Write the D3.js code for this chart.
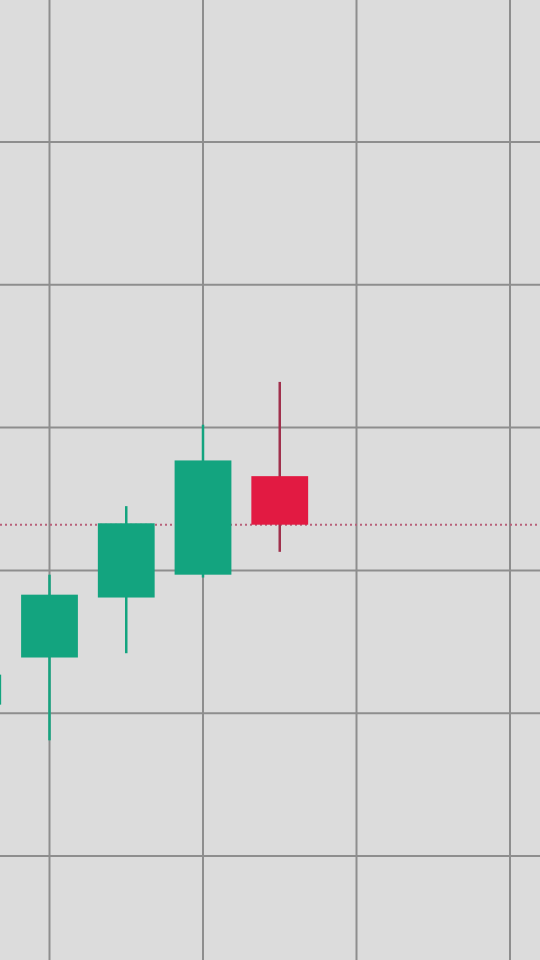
<!DOCTYPE html>
<html>
<head>
<meta charset="utf-8">
<script src="https://cdn.jsdelivr.net/npm/d3@7"></script>
<style>
html, body { margin: 0; padding: 0; background: #dcdcdc; overflow: hidden; }
svg { display: block; }
</style>
</head>
<body>
<svg id="chart" width="540" height="960"></svg>
<script>
// candle data
var idx   = [0, 1, 2, 3, 4];
var open  = [110.6, 113.9, 118.1, 119.7, 126.6];
var close = [112.7, 118.3, 123.3, 127.7, 123.2];
var high  = [113.5, 119.7, 124.5, 130.2, 133.2];
var low   = [109.6, 108.1, 114.2, 119.5, 121.3];
var lastPrice = 123.2;

var priceLines = [90, 100, 110, 120, 130, 140, 150];
var timeLines = [-1, 1, 3, 5, 7];

var svg = d3.select("#chart"),
	width = +svg.attr("width"),
	height = +svg.attr("height");

var x = d3.scaleLinear().domain([1, 7]).range([49.5, 510]);
var y = d3.scaleLinear().domain([100, 150]).range([856, 142]);
var step = x(1) - x(0);
var bodyW = step * 0.74;

var data = idx.map(function(i, k) {
	return {i: i, o: open[k], c: close[k], h: high[k], l: low[k]};
});

svg.append("rect")
	.attr("width", width)
	.attr("height", height)
	.attr("fill", "#dcdcdc");

// grid
svg.append("g").selectAll("line")
	.data(priceLines)
	.enter().append("line")
	.attr("x1", 0)
	.attr("x2", width)
	.attr("y1", function(d) { return y(d); })
	.attr("y2", function(d) { return y(d); })
	.attr("stroke", "#8e8e8e")
	.attr("stroke-width", 2);

svg.append("g").selectAll("line")
	.data(timeLines)
	.enter().append("line")
	.attr("x1", function(d) { return x(d); })
	.attr("x2", function(d) { return x(d); })
	.attr("y1", 0)
	.attr("y2", height)
	.attr("stroke", "#8e8e8e")
	.attr("stroke-width", 2);

// last price line
svg.append("line")
	.attr("x1", 0)
	.attr("x2", width)
	.attr("y1", y(lastPrice))
	.attr("y2", y(lastPrice))
	.attr("stroke", "#b8607a")
	.attr("stroke-width", 2)
	.attr("stroke-dasharray", "2,3");

var candle = svg.append("g").selectAll("g")
	.data(data)
	.enter().append("g");

function col(d) { return d.c >= d.o ? "#13a47f" : "#e21a42"; }
function wickCol(d) { return d.c >= d.o ? "#13a47f" : "#a0304c"; }

candle.append("line")
	.attr("x1", function(d) { return x(d.i); })
	.attr("x2", function(d) { return x(d.i); })
	.attr("y1", function(d) { return y(d.h); })
	.attr("y2", function(d) { return y(d.l); })
	.attr("stroke", wickCol)
	.attr("stroke-width", 2.5);

candle.append("rect")
	.attr("x", function(d) { return x(d.i) - bodyW / 2; })
	.attr("width", bodyW)
	.attr("y", function(d) { return y(Math.max(d.o, d.c)); })
	.attr("height", function(d) { return Math.abs(y(d.o) - y(d.c)); })
	.attr("fill", col);
</script>
</body>
</html>
